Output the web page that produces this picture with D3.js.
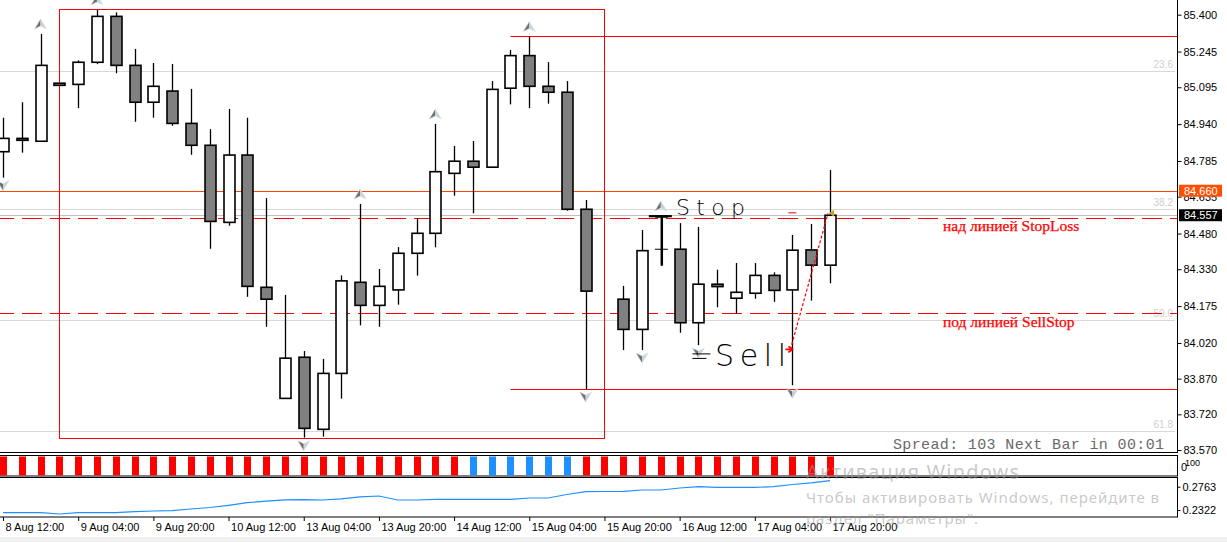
<!DOCTYPE html>
<html>
<head>
<meta charset="utf-8">
<script src="https://cdn.jsdelivr.net/npm/d3@7"></script>
<style>
  body { margin: 0; background: #fff; overflow: hidden; }
  svg { display: block; }
</style>
</head>
<body>
<script>
const width = 1227;
const height = 542;

// H4 candles, 8 Aug 12:00 .. 17 Aug 20:00
const opens  = [84.824, 84.880, 84.868, 85.112, 85.107, 85.200, 85.393, 85.187, 85.032, 85.079, 84.943, 84.851, 84.527, 84.810, 84.254, 83.787, 83.960, 83.657, 83.892, 84.275, 84.178, 84.243, 84.397, 84.481, 84.733, 84.784, 84.759, 85.091, 85.228, 85.099, 85.074, 84.582, 84.240, 84.204, 84.077, 84.550, 84.414, 84.105, 84.267, 84.208, 84.229, 84.304, 84.243, 84.411, 84.347];
const highs  = [84.967, 85.032, 85.319, 85.112, 85.208, 85.420, 85.410, 85.256, 85.197, 85.193, 85.088, 84.919, 85.004, 84.967, 84.629, 84.222, 83.986, 83.953, 84.304, 84.604, 84.331, 84.423, 84.544, 84.941, 84.848, 84.869, 85.121, 85.252, 85.308, 85.201, 85.121, 84.621, 84.240, 84.260, 84.495, 84.554, 84.524, 84.508, 84.328, 84.356, 84.356, 84.317, 84.474, 84.520, 84.747];
const lows   = [84.715, 84.820, 84.866, 85.103, 85.007, 85.192, 85.154, 84.950, 84.967, 84.933, 84.811, 84.416, 84.513, 84.214, 84.088, 83.785, 83.622, 83.626, 83.786, 84.094, 84.088, 84.181, 84.303, 84.422, 84.639, 84.565, 84.757, 85.023, 85.007, 85.026, 84.576, 83.826, 84.240, 83.990, 83.990, 84.345, 84.063, 84.011, 84.170, 84.143, 84.206, 84.193, 83.842, 84.198, 84.271];
const closes = [84.880, 84.872, 85.187, 85.103, 85.200, 85.393, 85.187, 85.032, 85.099, 84.943, 84.851, 84.531, 84.810, 84.258, 84.204, 83.956, 83.661, 83.892, 84.281, 84.178, 84.258, 84.397, 84.481, 84.740, 84.784, 84.759, 85.086, 85.228, 85.099, 85.074, 84.582, 84.238, 84.240, 84.077, 84.408, 84.552, 84.105, 84.267, 84.257, 84.233, 84.304, 84.241, 84.410, 84.347, 84.557];

const fractalUp = [2, 5, 19, 23, 28, 35];
const fractalDown = [0, 16, 31, 34, 37, 42];

const priceTicks = [85.400, 85.245, 85.095, 84.940, 84.785, 84.635, 84.480, 84.330, 84.175, 84.020, 83.870, 83.720, 83.570];
const timeLabels = ["8 Aug 12:00", "9 Aug 04:00", "9 Aug 20:00", "10 Aug 12:00", "13 Aug 04:00", "13 Aug 20:00",
                    "14 Aug 12:00", "15 Aug 04:00", "15 Aug 20:00", "16 Aug 12:00", "17 Aug 04:00", "17 Aug 20:00"];

const fibLevels = ["23.6", "38.2", "50.0", "61.8"];
const fibPrices = [85.162, 84.585, 84.116, 83.649];

const bidPrice = 84.557;
const alertPrice = 84.660;
const stopLossPrice = 84.544;
const sellStopPrice = 84.145;
const highLinePrice = 85.309;
const lowLinePrice = 83.826;

// signal histogram (1st sub window) and line (2nd sub window)
const signalColors = ["r","r","r","r","r","r","r","r","r","r","r","r","r","r","r","r","r","r","r","r","r","r","r","r","r",
                      "b","b","b","b","b","b","r","r","r","r","r","r","r","r","r","r","r","r","r","r"];
const lineValues = [0.2271, 0.2271, 0.2271, 0.2246, 0.2271, 0.2271, 0.2271, 0.2290, 0.2303, 0.2309,
                    0.2341, 0.2369, 0.2411, 0.2460, 0.2489, 0.2515, 0.2517, 0.2511, 0.2534, 0.2572,
                    0.2587, 0.2511, 0.2511, 0.2524, 0.2524, 0.2524, 0.2524, 0.2524, 0.2549, 0.2549,
                    0.2615, 0.2668, 0.2672, 0.2676, 0.2701, 0.2701, 0.2738, 0.2763, 0.2752, 0.2752,
                    0.2752, 0.2763, 0.2805, 0.2837, 0.2877];
const lineTicks = [0.2763, 0.2322];

const candles = opens.map((o, i) => ({i, o, h: highs[i], l: lows[i], c: closes[i]}));

const axisX = 1177;
const svg = d3.select("body").append("svg")
  .attr("width", width)
  .attr("height", height)
  .attr("font-family", "Liberation Sans, Arial, sans-serif");

svg.append("rect").attr("x", 0).attr("y", 537).attr("width", width).attr("height", 5).attr("fill", "#f0f0f0");

const x = d3.scaleLinear().domain([0, 44]).range([3, 830]);
const y = d3.scaleLinear().domain([83.570, 85.400]).range([450, 14.7]);
const ySig = d3.scaleLinear().domain([0, 100]).range([475.5, 456.5]);
const yLine = d3.scaleLinear().domain([0.2322, 0.2763]).range([510, 486.7]);

const main = svg.append("g");

// fibo levels
fibPrices.forEach((p, k) => {
  main.append("line").attr("x1", 0).attr("x2", axisX - 2)
    .attr("y1", Math.round(y(p)) + 0.5).attr("y2", Math.round(y(p)) + 0.5)
    .attr("stroke", "#d8d8d8");
  main.append("text").attr("x", axisX - 4).attr("y", y(p) - 3)
    .attr("text-anchor", "end").attr("font-size", 10).attr("fill", "#cfcfcf")
    .text(fibLevels[k]);
});

// bid line
main.append("line").attr("x1", 0).attr("x2", axisX)
  .attr("y1", Math.round(y(bidPrice)) + 0.5).attr("y2", Math.round(y(bidPrice)) + 0.5)
  .attr("stroke", "#c0c0c0");

// alert line
main.append("line").attr("x1", 0).attr("x2", axisX)
  .attr("y1", Math.round(y(alertPrice)) + 0.5).attr("y2", Math.round(y(alertPrice)) + 0.5)
  .attr("stroke", "#ff4500");

// dashed order lines
[stopLossPrice, sellStopPrice].forEach(p => {
  main.append("line").attr("x1", 0).attr("x2", axisX)
    .attr("y1", Math.round(y(p)) + 0.5).attr("y2", Math.round(y(p)) + 0.5)
    .attr("stroke", "#ff0000").attr("stroke-dasharray", "20,8").attr("stroke-dashoffset", 6);
});

// red horizontal lines from candle 27
[highLinePrice, lowLinePrice].forEach(p => {
  main.append("line").attr("x1", x(27)).attr("x2", axisX)
    .attr("y1", Math.round(y(p)) + 0.5).attr("y2", Math.round(y(p)) + 0.5)
    .attr("stroke", "#ff0000");
});

// rectangle
main.append("rect")
  .attr("x", Math.round(x(3)) + 0.5).attr("y", Math.round(y(85.423)) + 0.5)
  .attr("width", Math.round(x(32)) - Math.round(x(3)))
  .attr("height", Math.round(y(83.620)) - Math.round(y(85.423)))
  .attr("fill", "none").attr("stroke", "#ff0000");

// candles
const bodyW = 11;
const cg = main.append("g");
cg.selectAll("line.wick").data(candles).enter().append("line")
  .attr("class", "wick")
  .attr("x1", d => Math.round(x(d.i)) + 0.5).attr("x2", d => Math.round(x(d.i)) + 0.5)
  .attr("y1", d => y(d.h)).attr("y2", d => y(d.l))
  .attr("stroke", "#000").attr("stroke-width", 1.3);
cg.selectAll("rect.body").data(candles).enter().append("rect")
  .attr("class", "body")
  .attr("x", d => Math.round(x(d.i)) - bodyW / 2 + 0.5)
  .attr("y", d => y(Math.max(d.o, d.c)))
  .attr("width", bodyW)
  .attr("height", d => Math.abs(y(d.o) - y(d.c)))
  .attr("fill", d => d.c >= d.o ? "#ffffff" : "#808080")
  .attr("stroke", "#000").attr("stroke-width", 1.6);

// fractal arrows
function arrow(g, cx, cy, up) {
  const s = up ? 1 : -1;
  const a = g.append("g").attr("transform", `translate(${cx},${cy}) scale(1,${s})`);
  a.append("path").attr("d", "M0,-5 L-6,5 L0,2 Z").attr("fill", "#6e6e6e");
  a.append("path").attr("d", "M0,-5 L6,5 L0,2 Z").attr("fill", "#c6d2de");
  a.append("path").attr("d", "M0,-5 L-6,5 L0,2 L6,5 Z").attr("fill", "none").attr("stroke", "#d8dde2").attr("stroke-width", 0.6);
}
fractalUp.forEach(i => arrow(main, x(i), y(highs[i]) - 10, true));
fractalDown.forEach(i => arrow(main, x(i), y(lows[i]) + 8, false));

// hand drawn marks
const hand = main.append("g").attr("stroke", "#000").attr("fill", "none");
hand.append("line").attr("x1", x(35) - 12).attr("x2", x(35) + 11)
  .attr("y1", y(84.553)).attr("y2", y(84.553)).attr("stroke-width", 2.2);
hand.append("line").attr("x1", x(35) - 6).attr("x2", x(35) + 7)
  .attr("y1", y(84.414)).attr("y2", y(84.414)).attr("stroke-width", 1);
hand.append("line").attr("x1", x(35) + 1).attr("x2", x(35) + 1)
  .attr("y1", y(84.553)).attr("y2", y(84.345)).attr("stroke-width", 2.4);
hand.append("line").attr("x1", x(37) - 6).attr("x2", x(37) + 12)
  .attr("y1", y(83.974)).attr("y2", y(83.974)).attr("stroke-width", 1);
hand.append("line").attr("x1", x(37) - 6).attr("x2", x(37) + 8)
  .attr("y1", y(83.955)).attr("y2", y(83.955)).attr("stroke-width", 1);

main.append("text").attr("x", 676).attr("y", 215)
  .style("font-family", "'DejaVu Sans', sans-serif").style("font-weight", 200).attr("font-size", 22)
  .attr("textLength", 69).attr("fill", "#000").text("Stop");
main.append("text").attr("x", 715).attr("y", 366)
  .style("font-family", "'DejaVu Sans', sans-serif").style("font-weight", 200).attr("font-size", 30)
  .attr("textLength", 71).attr("fill", "#000").text("Sell");

// small pending mark
main.append("line").attr("x1", x(42) - 4).attr("x2", x(42) + 4)
  .attr("y1", y(84.567)).attr("y2", y(84.567)).attr("stroke", "#ff0000").attr("stroke-width", 1);

// trade line
const trade = [{i: 42, p: 83.993}, {i: 44, p: 84.565}];
main.append("path").datum(trade)
  .attr("d", d3.line().x(d => x(d.i) - 2).y(d => y(d.p)))
  .attr("fill", "none").attr("stroke", "#ff0000").attr("stroke-width", 1.2).attr("stroke-dasharray", "3,2");
main.append("path")
  .attr("d", `M${x(42) - 7},${y(83.993)} L${x(42) - 1},${y(83.993)} M${x(42) - 4},${y(83.993) - 3} L${x(42)},${y(83.993)} L${x(42) - 4},${y(83.993) + 3}`)
  .attr("stroke", "#ff0000").attr("stroke-width", 1.8).attr("fill", "none");
main.append("path")
  .attr("d", `M${x(44) - 1},${y(84.565)} L${x(44) + 4},${y(84.565) - 3.5} L${x(44) + 4},${y(84.565) + 3.5} Z`)
  .attr("fill", "#d4a020");

// order labels
main.append("text").attr("x", 943).attr("y", 231)
  .style("font-family", "'Liberation Serif', serif").attr("font-size", 15.5).attr("fill", "#ff0000")
  .attr("stroke", "#ff0000").attr("stroke-width", 0.25)
  .text("над линией StopLoss");
main.append("text").attr("x", 943).attr("y", 327)
  .style("font-family", "'Liberation Serif', serif").attr("font-size", 15.5).attr("fill", "#ff0000")
  .attr("stroke", "#ff0000").attr("stroke-width", 0.25)
  .text("под линией SellStop");

main.append("text").attr("x", 893).attr("y", 449)
  .style("font-family", "'Liberation Mono', monospace").attr("font-size", 15).attr("fill", "#6a6a6a")
  .attr("textLength", 271).text("Spread: 103 Next Bar in 00:01");

// frames
svg.append("line").attr("x1", axisX + 0.5).attr("x2", axisX + 0.5).attr("y1", 0).attr("y2", 453)
  .attr("stroke", "#000");
svg.append("line").attr("x1", 0).attr("x2", axisX + 1).attr("y1", 452.5).attr("y2", 452.5)
  .attr("stroke", "#000");
svg.append("rect").attr("x", -1).attr("y", 455.5).attr("width", axisX + 1.5).attr("height", 20.5)
  .attr("fill", "none").attr("stroke", "#000");
svg.append("rect").attr("x", -1).attr("y", 477.5).attr("width", axisX + 1.5).attr("height", 39.5)
  .attr("fill", "none").attr("stroke", "#000");

// price axis
const yAxis = svg.append("g").attr("transform", `translate(${axisX + 0.5},0)`)
  .call(d3.axisRight(y).tickValues(priceTicks).tickSize(4).tickPadding(2).tickFormat(d3.format(".3f")));
yAxis.select(".domain").remove();
yAxis.selectAll("text").attr("font-size", 11).attr("font-family", null).attr("fill", "#000");

// price label boxes
function priceBox(p, bg) {
  svg.append("rect").attr("x", axisX + 2).attr("y", y(p) - 6).attr("width", 43).attr("height", 12).attr("fill", bg);
  svg.append("text").attr("x", axisX + 7).attr("y", y(p) + 4).attr("font-size", 11).attr("fill", "#fff")
    .text(d3.format(".3f")(p));
}
priceBox(alertPrice, "#ff4f00");
priceBox(bidPrice, "#000000");

// sub window 1
svg.append("g").selectAll("rect").data(signalColors).enter().append("rect")
  .attr("x", (d, i) => Math.round(x(i)) - 3)
  .attr("y", ySig(100))
  .attr("width", 7)
  .attr("height", ySig(0) - ySig(100))
  .attr("fill", d => d === "b" ? "#1e90ff" : "#ff0000");
svg.append("text").attr("x", axisX + 4).attr("y", 471).attr("font-size", 11).text("0");
svg.append("text").attr("x", axisX + 8).attr("y", 466).attr("font-size", 9).text("100");

// sub window 2
svg.append("path").datum(lineValues)
  .attr("d", d3.line().x((d, i) => x(i)).y(d => yLine(d)))
  .attr("fill", "none").attr("stroke", "#1e90ff").attr("stroke-width", 1.2);
const lAxis = svg.append("g").attr("transform", `translate(${axisX + 0.5},0)`)
  .call(d3.axisRight(yLine).tickValues(lineTicks).tickSize(3).tickPadding(2).tickFormat(d3.format(".4f")));
lAxis.select(".domain").remove();
lAxis.selectAll("text").attr("font-size", 11).attr("fill", "#000");

// time axis
const tAxis = svg.append("g").attr("transform", "translate(0,517)")
  .call(d3.axisBottom(x).tickValues(timeLabels.map((d, k) => k * 4)).tickSize(4).tickPadding(2)
    .tickFormat((d, k) => timeLabels[k]));
tAxis.select(".domain").remove();
tAxis.selectAll("text").attr("font-size", 11).attr("fill", "#000").attr("text-anchor", "start").attr("dx", 2);

// windows watermark
const wm = svg.append("g").attr("fill", "#9a9a9a").attr("fill-opacity", 0.55)
  .style("font-family", "'Noto Sans', 'Open Sans', sans-serif");
wm.append("text").attr("x", 806).attr("y", 479).attr("font-size", 20).attr("textLength", 213).text("Активация Windows");
wm.append("text").attr("x", 806).attr("y", 503).attr("font-size", 15).attr("textLength", 353).text("Чтобы активировать Windows, перейдите в");
wm.append("text").attr("x", 806).attr("y", 524).attr("font-size", 15).attr("textLength", 172).text("раздел \"Параметры\".");
</script>
</body>
</html>
